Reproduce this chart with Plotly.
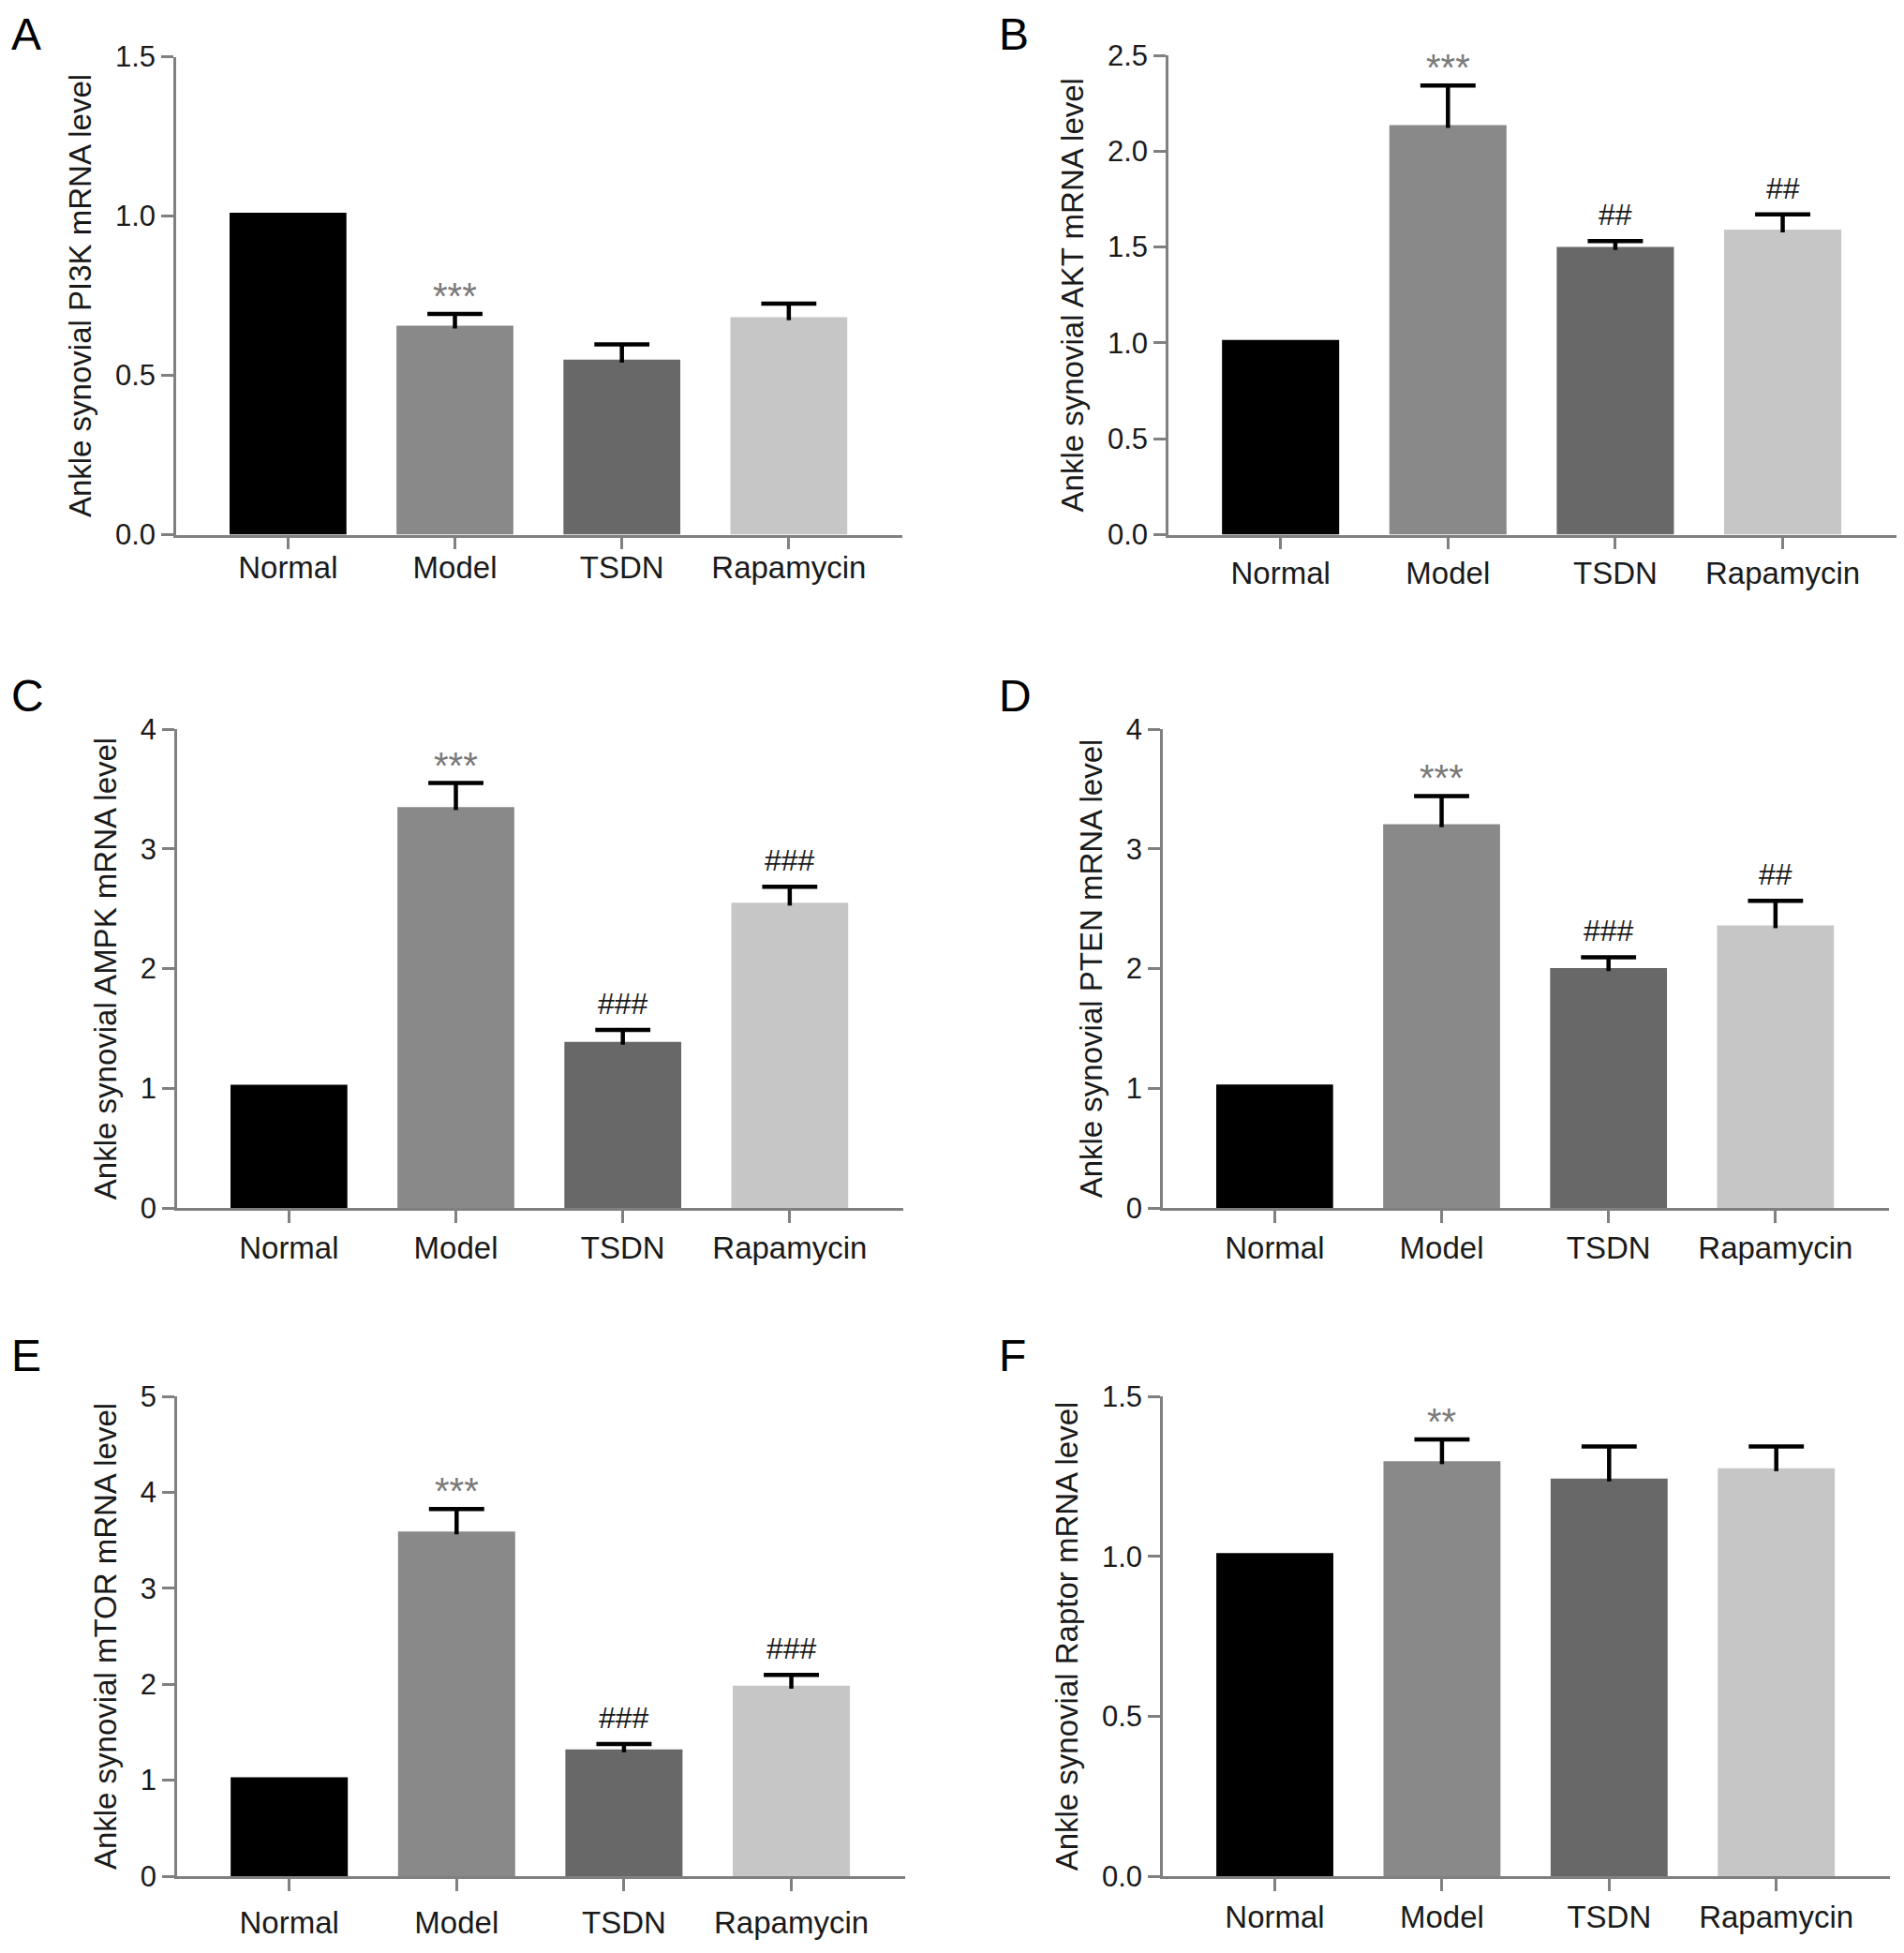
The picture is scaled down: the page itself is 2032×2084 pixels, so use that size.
import plotly.graph_objects as go

W, H = 2032, 2084
OFF = 8  # page body margin of the html export

groups = ['Normal', 'Model', 'TSDN', 'Rapamycin']
colors = ['#000000', '#898989', '#686868', '#c6c6c6']

genes = ['PI3K', 'AKT', 'AMPK', 'PTEN', 'mTOR', 'Raptor']
letters = ['A', 'B', 'C', 'D', 'E', 'F']

# mean, upper error (SEM) and significance marks
means_pi3k = [1.01, 0.656, 0.549, 0.682]
err_pi3k = [None, 0.037, 0.048, 0.043]
sig_pi3k = ['', '***', '', '']

means_akt = [1.015, 2.136, 1.50, 1.591]
err_akt = [None, 0.206, 0.031, 0.079]
sig_akt = ['', '***', '##', '##']

means_ampk = [1.03, 3.348, 1.388, 2.55]
err_ampk = [None, 0.201, 0.100, 0.132]
sig_ampk = ['', '***', '###', '###']

means_pten = [1.031, 3.205, 2.003, 2.361]
err_pten = [None, 0.236, 0.091, 0.205]
sig_pten = ['', '***', '###', '##']

means_mtor = [1.031, 3.592, 1.321, 1.984]
err_mtor = [None, 0.234, 0.057, 0.113]
sig_mtor = ['', '***', '###', '###']

means_raptor = [1.01, 1.297, 1.243, 1.275]
err_raptor = [None, 0.068, 0.100, 0.068]
sig_raptor = ['', '**', '', '']

y_max = [1.5, 2.5, 4, 4, 5, 1.5]
y_dtick = [0.5, 0.5, 1, 1, 1, 0.5]
y_fmt = ['.1f', '.1f', 'd', 'd', 'd', '.1f']

means = [means_pi3k, means_akt, means_ampk, means_pten, means_mtor, means_raptor]
errs = [err_pi3k, err_akt, err_ampk, err_pten, err_mtor, err_raptor]
sigs = [sig_pi3k, sig_akt, sig_ampk, sig_pten, sig_mtor, sig_raptor]

# plot areas in pixels of the page: (left, right, top, bottom)
boxes = [(188, 963, 60.5, 570.5), (1247, 2024, 59, 570.5),
         (189, 964, 778, 1289), (1241, 2016, 778, 1289),
         (189, 966, 1490, 2002), (1241, 2017, 1490, 2002)]
letter_pos = [(10, 8), (1064, 8), (10, 714), (1064, 714), (10, 1418), (1064, 1418)]
label_gap = [-9, -3, -1, -1, 6, 0]  # category labels sit at slightly different depths per panel

FONT = 'Arial, Liberation Sans, Helvetica, sans-serif'
AX = '#808080'
CAP = 0.165

fig = go.Figure()
annos = []
for i in range(6):
    xa = 'x' if i == 0 else 'x%d' % (i + 1)
    ya = 'y' if i == 0 else 'y%d' % (i + 1)
    xpos = list(range(len(groups)))
    fig.add_trace(go.Bar(
        x=xpos, y=means[i], xaxis=xa, yaxis=ya, width=0.7,
        marker=dict(color=colors, line=dict(width=0)),
        showlegend=False, hoverinfo='skip'))

    # upper-only error bars (T shape)
    ex, ey = [], []
    for j in xpos:
        e = errs[i][j]
        if e is None:
            continue
        top = means[i][j] + e
        ex += [j - CAP, j + CAP, None, j, j, None]
        ey += [top, top, None, top, means[i][j] - 0.006 * y_max[i], None]
    fig.add_trace(go.Scatter(x=ex, y=ey, xaxis=xa, yaxis=ya, mode='lines',
                             line=dict(color='#000000', width=4.5),
                             showlegend=False, hoverinfo='skip'))

    l, r, t, b = [v - OFF for v in boxes[i]]
    fig.update_layout(**{
        ('xaxis' if i == 0 else 'xaxis%d' % (i + 1)): dict(
            domain=[l / W, r / W], anchor=ya, range=[-0.67, 3.68], automargin=False,
            tickvals=xpos, ticktext=groups, ticklabelstandoff=label_gap[i],
            showline=True, linecolor=AX, linewidth=2.5, ticks='outside', ticklen=13,
            tickwidth=2.5, tickcolor=AX, showgrid=False, zeroline=False,
            tickfont=dict(family=FONT, size=33, color='#1a1a1a')),
        ('yaxis' if i == 0 else 'yaxis%d' % (i + 1)): dict(
            domain=[1 - b / H, 1 - t / H], anchor=xa, range=[0, y_max[i]], automargin=False,
            dtick=y_dtick[i], tick0=0, tickformat=y_fmt[i],
            showline=True, linecolor=AX, linewidth=2.5, ticks='outside', ticklen=13,
            tickwidth=2.5, tickcolor=AX, showgrid=False, zeroline=False,
            tickfont=dict(family=FONT, size=31, color='#1a1a1a'),
            title=dict(text='Ankle synovial %s mRNA level' % genes[i], standoff=16,
                       font=dict(family=FONT, size=33, color='#1a1a1a'))),
    })

    for j, s in enumerate(sigs[i]):
        if not s:
            continue
        star = s.startswith('*')
        annos.append(dict(
            x=j, y=means[i][j] + errs[i][j], xref=xa, yref=ya,
            text=s, showarrow=False, yanchor='bottom',
            yshift=-5 if star else 8,
            font=dict(family=FONT, size=40 if star else 32,
                      color='#7a7a7a' if star else '#1a1a1a')))

    lx, ly = letter_pos[i]
    annos.append(dict(x=(lx - OFF) / W, y=1 - (ly - OFF) / H, xref='paper', yref='paper',
                      xanchor='left', yanchor='top', text=letters[i], showarrow=False,
                      font=dict(family=FONT, size=48, color='#000000')))

fig.update_layout(width=W, height=H, margin=dict(l=0, r=0, t=0, b=0, autoexpand=False),
                  paper_bgcolor='white', plot_bgcolor='white',
                  annotations=annos, template='none')

fig.write_html('out.html')
